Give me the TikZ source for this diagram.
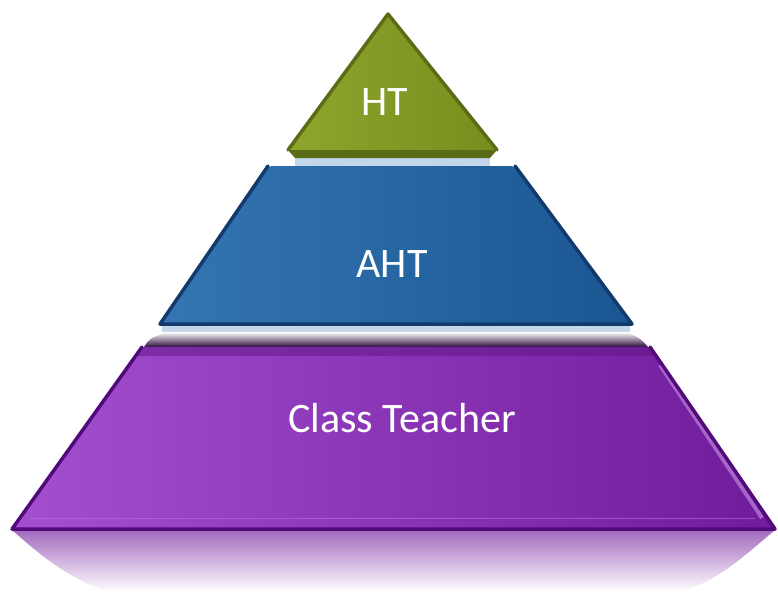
\documentclass[tikz,border=0pt]{standalone}
\usepackage{fontspec}
\setmainfont{Carlito}
\usetikzlibrary{positioning}
\definecolor{htL}{RGB}{142,166,44}
\definecolor{htR}{RGB}{118,142,30}
\definecolor{htE}{RGB}{92,108,22}
\definecolor{ahtL}{RGB}{52,118,178}
\definecolor{ahtR}{RGB}{26,86,146}
\definecolor{ahtE}{RGB}{18,58,108}
\definecolor{ctL}{RGB}{164,78,208}
\definecolor{ctR}{RGB}{112,26,156}
\definecolor{ctE}{RGB}{82,10,122}
\definecolor{pale}{RGB}{196,214,234}
\tikzstyle{edge}=[line width=3.5pt,line join=round,line cap=round]
\tikzstyle{lbl}=[text=white,anchor=base,inner sep=0pt,font=\fontsize{42}{50}\selectfont]

\begin{document}
\begin{tikzpicture}[x=1pt,y=-1pt]
  \useasboundingbox (0,0) rectangle (778,592);
% reflection and gaps
  \shade[top color=ctR!65!white,bottom color=white] (12,530) -- (775,530) .. controls (745,555) and (720,580) .. (680,592) -- (110,592) .. controls (70,580) and (40,555) .. (12,530);
  \fill[pale] (295,157) rectangle (490,167);
  \fill[pale] (162,325) rectangle (630,332);
  \shade[top color=white,bottom color=black!60!ctR] (168,332) -- (626,332) .. controls (640,338) .. (648,347) -- (144,347) .. controls (150,338) .. (168,332);
% class teacher
  \shade[left color=ctL,right color=ctR] (142,347) -- (650,347) -- (775,529) -- (12,529) -- cycle;
  \fill[ctR!85!black,opacity=.5] (142,347) -- (650,347) -- (656,356) -- (136,356) -- cycle;
  \draw[ctL!80!white,line width=1pt,opacity=.6] (30,518) -- (755,518);
  \draw[ctL!60!white,line width=4pt,opacity=.6] (660,365) -- (762,518);
  \draw[ctE,edge] (142,347) -- (12,529) -- (775,529) -- (650,347);
% aht
  \shade[left color=ahtL,right color=ahtR,rounded corners=4pt] (268,166) -- (515,166) -- (632,324) -- (160,324) -- cycle;
  \draw[ahtE,edge] (268,166) -- (160,324) -- (632,324) -- (515,166);
% ht
  \shade[left color=htL,right color=htR] (388,14) -- (497,150) -- (288,150) -- cycle;
  \fill[htE] (288,150) -- (497,150) -- (490,158) -- (295,158) -- cycle;
  \draw[htE,edge] (288,150) -- (388,14) -- (497,150);
% labels
  \node[lbl] (ht)  at (385,115) {HT};
  \node[lbl] (aht) at (392,277) {AHT};
  \node[lbl] (ct)  at (402,432) {Class Teacher};
\end{tikzpicture}
\end{document}
